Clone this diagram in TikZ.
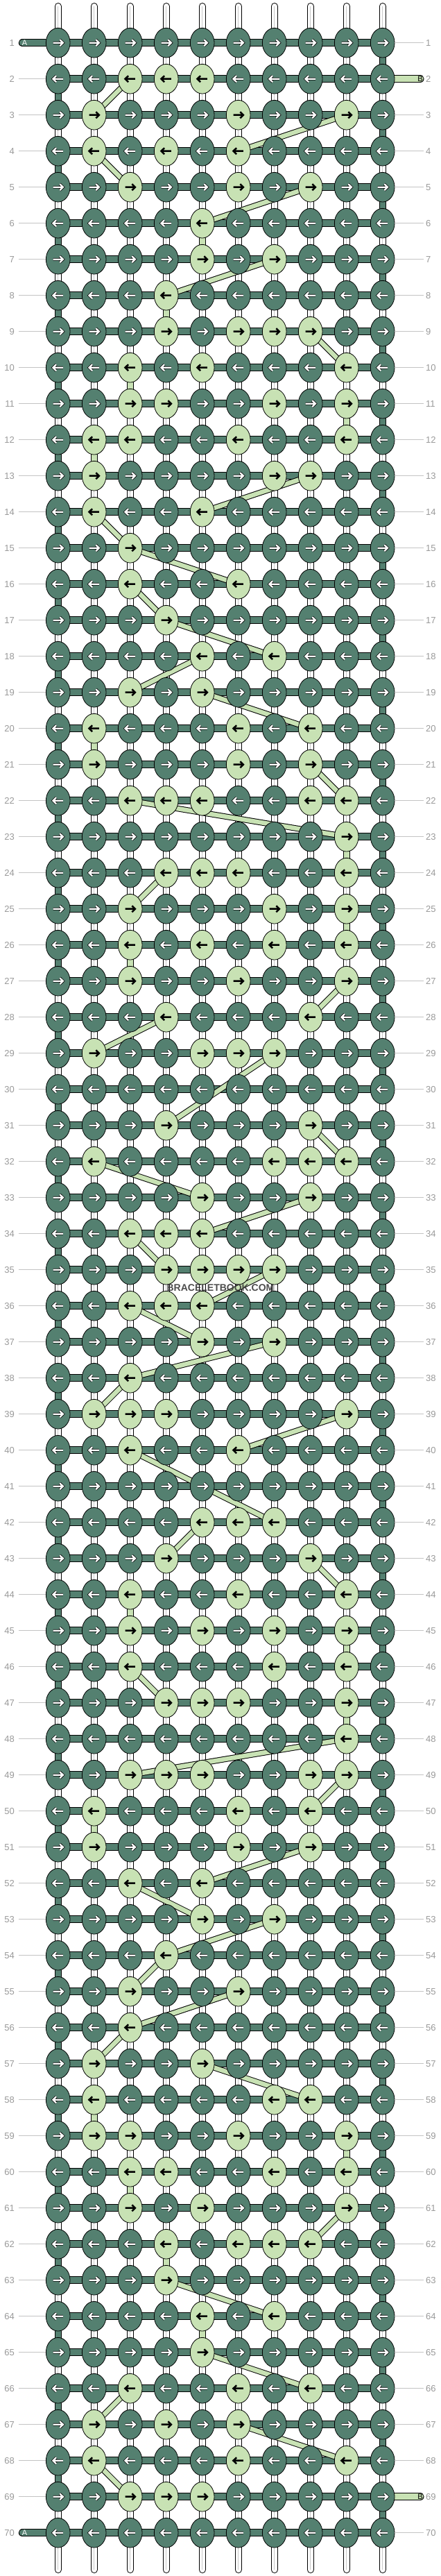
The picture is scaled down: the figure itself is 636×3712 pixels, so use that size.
\documentclass[tikz,border=0pt]{standalone}
\usepackage{fontspec}
\setmainfont{Liberation Sans}
\usetikzlibrary{shapes.geometric}
\definecolor{dk}{HTML}{548070}
\definecolor{lt}{HTML}{C8E2B4}
\definecolor{lblc}{HTML}{9A9A9A}
\definecolor{leadc}{HTML}{C4C4C4}
\definecolor{strc}{HTML}{C8C8C8}
\definecolor{wmk}{HTML}{3A3A3A}
\pgfdeclarelayer{strings}
\pgfdeclarelayer{bars}
\pgfdeclarelayer{diag}
\pgfsetlayers{strings,bars,diag,main}
\makeatletter
\newcommand\setknot[2]{%
  \edef\sk@tmp{\noexpand\in@{#1}{#2}}\sk@tmp
  \ifin@\def\kfill{lt}\def\karr{b}\else\def\kfill{dk}\def\karr{w}\fi}
\makeatother
\newcommand\karrow[3]{%
  \begin{scope}[shift={(#1.center)},xscale=#2]
  \if#3w
    \draw[black,line width=3.8,line join=miter] (-7.2,0)--(6.8,0) (2.6,-4.5)--(7.2,0)--(2.6,4.5);
    \draw[white,line width=2.3,line join=miter] (-7.2,0)--(6.8,0) (2.6,-4.5)--(7.2,0)--(2.6,4.5);
  \else
    \draw[black,line width=2.5,line join=miter] (-7.2,0)--(6.8,0) (2.6,-4.5)--(7.2,0)--(2.6,4.5);
  \fi
  \end{scope}}
\tikzset{
  knot/.style={ellipse,draw=black,line width=0.8,minimum width=34.7,minimum height=42.7,inner sep=0,outer sep=0},
  lbl/.style={font=\fontsize{13}{15}\selectfont,text=lblc,inner sep=0},
  leader/.style={leadc,line width=1},
  tailtxt/.style={font=\fontsize{11}{13}\selectfont,inner sep=0}
}
\begin{document}
\begin{tikzpicture}[x=1pt,y=-1pt]
\useasboundingbox (0,0) rectangle (636,3712);
% knots
\foreach \r/\L in {1/x,2/345,3/269,4/246,5/368,6/5,7/57,8/4,9/4678,10/359,
11/3479,12/2369,13/278,14/25,15/3,16/36,17/4,18/57,19/35,20/268,
21/268,22/34589,23/9,24/4569,25/379,26/3579,27/369,28/48,29/2567,30/x,
31/48,32/2789,33/58,34/345,35/4567,36/345,37/57,38/3,39/2349,40/36,
41/x,42/567,43/48,44/369,45/3579,46/379,47/4569,48/9,49/34589,50/268,
51/268,52/35,53/57,54/4,55/36,56/3,57/25,58/278,59/2369,60/3479,
61/359,62/4678,63/4,64/57,65/5,66/368,67/246,68/269,69/345,70/x}{
  \foreach \c in {1,...,10}{
    \setknot{\c}{\L}
    \node[knot,fill=\kfill] (k\r-\c) at ({31.7+52*\c},{9.7+52*\r}) {};
    \ifodd\r\relax\karrow{k\r-\c}{1}{\karr}\else\karrow{k\r-\c}{-1}{\karr}\fi
  }
}
% row labels and leaders
\foreach \r in {1,...,70}{
  \node[lbl,anchor=east] (ll\r) at (21,{9.7+52*\r}) {\r};
  \node[lbl,anchor=west] (rl\r) at (614,{9.7+52*\r}) {\r};
}
\foreach \r in {2,...,69}{
  \draw[leader,shorten <=5.5] (ll\r.east) -- (k\r-1.west);
}
\foreach \r in {1,3,4,...,68,70}{
  \draw[leader,shorten >=3] (k\r-10.east) -- (rl\r.west);
}
% watermark
\node[font=\bfseries\fontsize{14}{16}\selectfont,text=wmk,opacity=0.9,inner sep=0] (wm) at (318,1856) {BRACELETBOOK.COM};
% vertical strings
\begin{pgfonlayer}{strings}
\fill[white] (0,0) rectangle (636,3712);
\foreach \c in {1,...,10}{
  \coordinate (st\c) at ({31.7+52*\c},9);
  \coordinate (sb\c) at ({31.7+52*\c},3703);
  \draw[black,line width=10,line cap=round] (st\c) -- (sb\c);
  \draw[white,line width=8,line cap=round] (st\c) -- (sb\c);
  \draw[strc,line width=1.2] (st\c) -- (sb\c);
}
\end{pgfonlayer}
% horizontal bars, turns, tails
\begin{pgfonlayer}{bars}
\foreach \r in {1,...,70}{
  \draw[black,line width=11.5] (k\r-1.center) -- (k\r-10.center);
  \draw[dk,line width=9.5] (k\r-1.center) -- (k\r-10.center);
}
\foreach \r in {1,...,69}{
  \pgfmathtruncatemacro\s{\r+1}
  \ifodd\r\relax\def\tc{10}\else\def\tc{1}\fi
  \draw[black,line width=10] (k\r-\tc.center) -- (k\s-\tc.center);
  \draw[dk,line width=8] (k\r-\tc.center) -- (k\s-\tc.center);
}
\foreach \r in {1,70}{
  \coordinate (aend\r) at (32.5,{9.7+52*\r});
  \draw[black,line width=11.5,line cap=round] (aend\r) -- (k\r-1.center);
  \draw[dk,line width=9.5,line cap=round] (aend\r) -- (k\r-1.center);
  \node[tailtxt,text=white] (atx\r) at (35.5,{9.7+52*\r}) {A};
}
\foreach \r in {2,69}{
  \coordinate (bend\r) at (605.8,{9.7+52*\r});
  \draw[black,line width=11.5,line cap=round] (k\r-10.center) -- (bend\r);
  \draw[lt,line width=9.5,line cap=round] (k\r-10.center) -- (bend\r);
  \node[tailtxt,text=black] (btx\r) at (606,{9.7+52*\r}) {B};
}
\end{pgfonlayer}
% path of the second colour
\begin{pgfonlayer}{diag}
\foreach \a/\b/\e/\f in {2/3/3/2,3/9/4/6,4/2/5/3,5/8/6/5,7/7/8/4,9/8/10/9,13/8/14/5,14/2/15/3,
15/3/16/6,16/3/17/4,17/4/18/7,18/5/19/3,19/5/20/8,21/8/22/9,22/3/23/9,24/4/25/3,27/9/28/8,
28/4/29/2,29/7/31/4,31/8/32/9,32/2/33/5,33/8/34/5,34/3/35/4,35/7/36/5,36/3/37/5,37/7/38/3,
38/3/39/2,39/9/40/6,40/3/42/7,42/5/43/4,43/8/44/9,46/3/47/4,48/9/49/3,49/9/50/8,51/8/52/5,
52/3/53/5,53/7/54/4,54/4/55/3,55/6/56/3,56/3/57/2,57/5/58/8,61/9/62/8,63/4/64/7,65/5/66/8,
66/3/67/2,67/6/68/9,68/2/69/3}{
  \draw[black,line width=8.5] (k\a-\b.center) -- (k\e-\f.center);
  \draw[lt,line width=6.5] (k\a-\b.center) -- (k\e-\f.center);
}
\foreach \a/\b in {6/5,8/4,10/3,11/9,12/2,20/2,23/9,25/9,26/3,44/3,45/9,47/9,50/2,58/2,59/9,60/3,62/4,64/5}{
  \pgfmathtruncatemacro\e{\a+1}
  \draw[black,line width=10] (k\a-\b.center) -- (k\e-\b.center);
  \draw[lt,line width=8] (k\a-\b.center) -- (k\e-\b.center);
}
\end{pgfonlayer}
\end{tikzpicture}
\end{document}
